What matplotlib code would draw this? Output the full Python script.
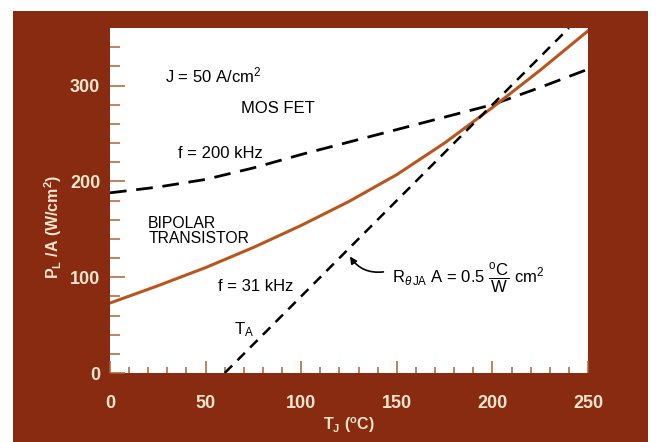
import numpy as np
import matplotlib.pyplot as plt
from matplotlib.patches import Rectangle

# Datos
tj = [0, 25, 50, 75, 100, 125, 150, 175, 200, 225, 250]
p_mosfet = [188, 194, 202, 214, 228, 241, 254, 267, 280, 298, 317]
p_bipolar = [73, 91, 110, 131, 154, 179, 207, 240, 277, 316, 357]
ta_t = [60, 240]
ta_p = [0, 360]

fondo = '#882b10'
crema = '#f4e6cc'

plt.rcParams['font.family'] = ['Liberation Sans', 'DejaVu Sans']
plt.rcParams['mathtext.fontset'] = 'custom'
plt.rcParams['mathtext.rm'] = 'Liberation Sans'
plt.rcParams['mathtext.it'] = 'Liberation Sans:italic'
plt.rcParams['mathtext.bf'] = 'Liberation Sans:bold'

fig = plt.figure(figsize=(6.56, 4.42), dpi=100)
fig.patch.set_facecolor('white')

# marco marron
marco = Rectangle((13 / 656, 0), 635 / 656, 431 / 442,
                  transform=fig.transFigure, facecolor=fondo,
                  edgecolor='none', zorder=-10)
fig.add_artist(marco)

ax = fig.add_axes([110 / 656, 1 - 373 / 442, 478 / 656, 345 / 442])
ax.set_zorder(5)
ax.set_facecolor('white')
for s in ax.spines.values():
    s.set_visible(False)

ax.plot(tj, p_mosfet, color='black', lw=2, dashes=(6, 3.5))
ax.plot(tj, p_bipolar, color='#b9561d', lw=2.2)
ax.plot(ta_t, ta_p, color='black', lw=1.8, dashes=(4.2, 3))

ax.set_xlim(0, 250)
ax.set_ylim(0, 360)

ax.set_xticks([0, 50, 100, 150, 200, 250])
ax.set_xticks(np.arange(10, 250, 10), minor=True)
ax.set_yticks([0, 100, 200, 300])
ax.set_yticks(np.arange(20, 360, 20), minor=True)

tick_col = '#b0622f'
ax.tick_params(axis='x', which='major', direction='in', length=9, width=1.1,
               color=tick_col, pad=16, labelsize=13, labelcolor=crema)
ax.tick_params(axis='x', which='minor', direction='in', length=4.5, width=1.1,
               color=tick_col)
ax.tick_params(axis='y', which='major', direction='in', length=11, width=1.1,
               color=tick_col, pad=7, labelsize=13, labelcolor=crema)
ax.tick_params(axis='y', which='minor', direction='in', length=7, width=1.1,
               color=tick_col)
for lab in ax.get_xticklabels() + ax.get_yticklabels():
    lab.set_fontweight('bold')

ax.set_xlabel(r'T$_\mathregular{J}$ ($^\mathregular{o}$C)', color=crema,
              fontsize=11.5, fontweight='bold', labelpad=2)
ax.set_ylabel(r'P$_\mathregular{L}$ /A (W/cm$^\mathregular{2}$)', color=crema,
              fontsize=11.5, fontweight='bold')
ax.yaxis.set_label_coords(-0.097, 0.423)

# textos dentro del grafico
kw = dict(color='black', fontsize=12, va='center')
ax.text(29, 311, r'J = 50 A/cm$^\mathregular{2}$', **kw)
ax.text(88, 276, 'MOS FET', ha='center', **kw)
ax.text(57.5, 229, 'f = 200 kHz', ha='center', **kw)
ax.text(20, 148, 'BIPOLAR\nTRANSISTOR', ha='left', linespacing=0.95,
        color='black', fontsize=11.3, va='center')
ax.text(76, 90, 'f = 31 kHz', ha='center', **kw)
ax.text(65, 45, r'T$_\mathregular{A}$', ha='left', **kw)
ax.text(147.5, 99,
        r'R$_{\theta\,\mathregular{JA}}$ A = 0.5 $\dfrac{^\mathregular{o}\mathregular{C}}{\mathregular{W}}$ cm$^\mathregular{2}$',
        ha='left', **kw)
ax.annotate('', xy=(125.5, 121.5), xytext=(143, 105.5),
            arrowprops=dict(arrowstyle='-|>', color='black', lw=1.2,
                            connectionstyle='arc3,rad=-0.3',
                            mutation_scale=10, shrinkA=0, shrinkB=0))

fig.savefig('out.png', dpi=100)
